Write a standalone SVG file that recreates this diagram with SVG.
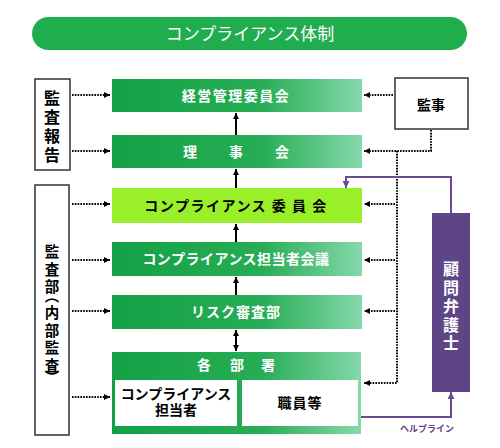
<svg xmlns="http://www.w3.org/2000/svg" width="500" height="448" viewBox="0 0 500 448">
<defs>
  <linearGradient id="g" x1="0" y1="0" x2="1" y2="0">
    <stop offset="0" stop-color="#14a145"/>
    <stop offset="0.6" stop-color="#27ad55"/>
    <stop offset="1" stop-color="#86d8ab"/>
  </linearGradient>
  <marker id="ah" viewBox="0 0 6 6" refX="6" refY="3" markerWidth="6" markerHeight="6" markerUnits="userSpaceOnUse" orient="auto-start-reverse">
    <path d="M0,0 L6,3 L0,6 z" fill="#000"/>
  </marker>
  <marker id="ap" viewBox="0 0 7 7" refX="7" refY="3.5" markerWidth="7" markerHeight="7" markerUnits="userSpaceOnUse" orient="auto">
    <path d="M0,0 L7,3.5 L0,7 z" fill="#6a4b94"/>
  </marker>
</defs>
<style>
  text { font-family: "Noto Sans CJK JP", "Noto Sans", sans-serif; }
  .gbox { fill: url(#g); }
  .wt { fill: #fff; font-weight: bold; font-size: 14px; text-anchor: middle; }
  .bt { fill: #000; font-weight: bold; font-size: 14px; text-anchor: middle; }
  .vert { font-weight: bold; writing-mode: vertical-rl; }
  .wbox { fill: #fff; stroke: #333; stroke-width: 1.5; }
  .dot { fill: none; stroke: #000; stroke-width: 2; stroke-dasharray: 1.6 1.2; }
  .sol { fill: none; stroke: #000; stroke-width: 2; }
  .pl { fill: none; stroke: #6a4b94; stroke-width: 2; }
</style>
<rect x="0" y="0" width="500" height="448" fill="#fff"/>

<g id="title">
  <rect x="32" y="17" width="435" height="33" rx="16.5" fill="#1fad4e"/>
  <text x="250" y="40" fill="#fff" font-size="17" text-anchor="middle">コンプライアンス体制</text>
</g>

<g id="kansa-houkoku">
  <rect class="wbox" x="35" y="79" width="35" height="91"/>
  <text class="vert" x="52" y="90" font-size="16" letter-spacing="3" fill="#000">監査報告</text>
</g>

<g id="kansabu">
  <rect class="wbox" x="35" y="185" width="34" height="250"/>
  <text class="vert" x="52" y="244.5" font-size="14.5" letter-spacing="3" fill="#000">監査部<tspan dy="-9">（</tspan>内部監査<tspan dy="-5">）</tspan></text>
</g>

<g id="kanji">
  <rect class="wbox" x="395" y="78" width="73" height="51"/>
  <text class="bt" x="431" y="110" font-size="16">監事</text>
</g>

<g id="keiei">
  <rect class="gbox" x="112" y="79" width="250" height="33"/>
  <text class="wt" x="236" y="101" letter-spacing="1.5">経営管理委員会</text>
</g>

<g id="rijikai">
  <rect class="gbox" x="112" y="135" width="250" height="33"/>
  <text class="wt"><tspan x="190" y="157">理</tspan><tspan x="236" y="157">事</tspan><tspan x="282" y="157">会</tspan></text>
</g>

<g id="compliance-iinkai">
  <rect x="112" y="188" width="250" height="35" fill="#99ef28"/>
  <text class="bt" x="236" y="211" letter-spacing="1.5">コンプライアンス 委 員 会</text>
</g>

<g id="tantousha-kaigi">
  <rect class="gbox" x="112" y="242" width="250" height="34"/>
  <text class="wt" x="236" y="264" letter-spacing="0.5">コンプライアンス担当者会議</text>
</g>

<g id="risk">
  <rect class="gbox" x="112" y="295" width="250" height="34"/>
  <text class="wt" x="236" y="317" letter-spacing="1">リスク審査部</text>
</g>

<g id="kakubusho">
  <rect class="gbox" x="112" y="352" width="249" height="82"/>
  <text class="wt"><tspan x="204" y="370">各</tspan><tspan x="237" y="370">部</tspan><tspan x="268" y="370">署</tspan></text>
  <rect x="115" y="380" width="122" height="46" fill="#fff"/>
  <text class="bt" x="176" y="399" font-size="14.5">コンプライアンス</text>
  <text class="bt" x="176" y="415" font-size="14.5">担当者</text>
  <rect x="242" y="380" width="116" height="46" fill="#fff"/>
  <text class="bt" x="300" y="408" font-size="14.5" letter-spacing="1">職員等</text>
</g>

<g id="bengoshi">
  <rect x="432" y="213" width="38" height="179" fill="#5f4486"/>
  <text class="vert" x="451" y="261" font-size="16" letter-spacing="2.5" fill="#fff">顧問弁護士</text>
</g>

<g id="connectors">
  <path class="dot" d="M72,95 H110" marker-end="url(#ah)"/>
  <path class="dot" d="M72,151 H110" marker-end="url(#ah)"/>
  <path class="dot" d="M72,204 H110" marker-end="url(#ah)"/>
  <path class="dot" d="M72,260 H110" marker-end="url(#ah)"/>
  <path class="dot" d="M72,311 H110" marker-end="url(#ah)"/>
  <path class="dot" d="M72,397 H110" marker-end="url(#ah)"/>
  <path class="dot" d="M393,95 H364" marker-end="url(#ah)"/>
  <path class="dot" d="M431,130 V151 H364" marker-end="url(#ah)"/>
  <path class="dot" d="M397,151 V383 H364" marker-end="url(#ah)"/>
  <path class="dot" d="M395,204 H364" marker-end="url(#ah)"/>
  <path class="dot" d="M395,260 H364" marker-end="url(#ah)"/>
  <path class="dot" d="M395,311 H364" marker-end="url(#ah)"/>
  <path class="sol" d="M236,135 V113" marker-end="url(#ah)"/>
  <path class="sol" d="M236,188 V169" marker-end="url(#ah)"/>
  <path class="sol" d="M236,242 V224" marker-end="url(#ah)"/>
  <path class="sol" d="M236,295 V277" marker-end="url(#ah)"/>
  <path class="sol" d="M236,330 V351" marker-start="url(#ah)" marker-end="url(#ah)"/>
  <path class="pl" d="M451,213 V177 H346 V188" marker-end="url(#ap)"/>
  <path class="pl" d="M361,417 H451 V392" marker-end="url(#ap)"/>
  <text x="427" y="432" font-size="9" font-weight="bold" fill="#5f4486" text-anchor="middle">ヘルプライン</text>
</g>
</svg>
